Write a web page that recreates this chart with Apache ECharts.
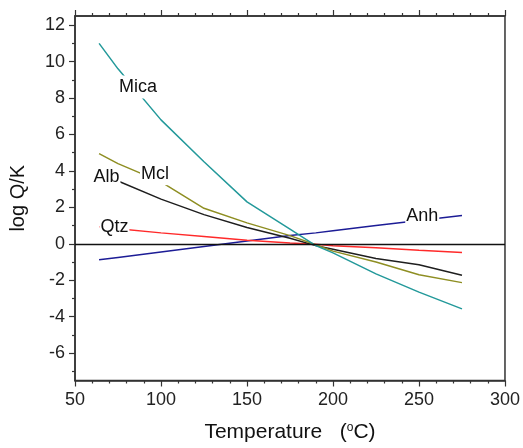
<!DOCTYPE html>
<html>
<head>
<meta charset="utf-8">
<script src="https://cdn.jsdelivr.net/npm/echarts@6/dist/echarts.min.js"></script>
<style>
  html, body { margin: 0; padding: 0; background: #fff; }
  #main { width: 523px; height: 448px; }
</style>
</head>
<body>
<div id="main"></div>
<script>
// temperatures (°C) where values were read
var temps = [64, 75, 100, 125, 150, 175, 190, 200, 225, 250, 275];

// log Q/K for each mineral
var mica = [11.0, 9.6, 6.8, 4.5, 2.3, 0.8, -0.1, -0.5, -1.65, -2.65, -3.57];
var mcl  = [4.95, 4.4, 3.4, 1.95, 1.15, 0.45, -0.05, -0.4, -1.0, -1.7, -2.13];
var alb  = [3.9, 3.45, 2.45, 1.6, 0.9, 0.3, -0.1, -0.3, -0.8, -1.15, -1.72];
var qtz  = [0.93, 0.82, 0.6, 0.4, 0.2, 0.05, -0.03, -0.1, -0.22, -0.35, -0.47];
var anh  = [-0.88, -0.75, -0.45, -0.15, 0.15, 0.45, 0.6, 0.72, 1.0, 1.28, 1.55];

// inline label spots (temperature, log Q/K)
var labelNames = ['Mica', 'Mcl', 'Alb', 'Qtz', 'Anh'];
var labelAt = [[86.7, 8.6], [96.5, 3.85], [68.3, 3.65], [72.9, 0.9], [251.9, 1.55]];

var yLabels = [-6, -4, -2, 0, 2, 4, 6, 8, 10, 12];
var yMinor = [-7, -5, -3, -1, 1, 3, 5, 7, 9, 11];

var font = 'Arial, "Liberation Sans", sans-serif';
var axisColor = '#333';

function pairs(vals) {
    return temps.map(function (t, i) { return [t, vals[i]]; });
}

function makeSeries(name, vals, color, idx, extra) {
    var s = {
        name: name,
        type: 'line',
        data: pairs(vals),
        symbol: 'none',
        lineStyle: {color: color, width: 1.5},
        itemStyle: {color: color},
        markPoint: {
            symbol: 'rect',
            symbolSize: 1,
            itemStyle: {color: 'rgba(0,0,0,0)'},
            label: {
                show: true,
                position: 'inside',
                formatter: labelNames[idx],
                color: '#111',
                fontFamily: font,
                fontSize: 18,
                backgroundColor: '#fff',
                padding: [3, 1, 2, 1]
            },
            data: [{coord: labelAt[idx]}]
        },
        z: 3
    };
    if (extra) Object.assign(s, extra);
    return s;
}

var chart = echarts.init(document.getElementById('main'));
chart.setOption({
    animation: false,
    grid: {
        left: 72, right: 18, top: 16, bottom: 61,
        show: true,
        borderColor: axisColor,
        borderWidth: 1.5
    },
    xAxis: [
        {
            type: 'value',
            min: 50, max: 300, interval: 50,
            position: 'bottom',
            name: 'Temperature   ({sup|o}C)',
            nameLocation: 'middle',
            nameGap: 41,
            nameTextStyle: {
                fontFamily: font, fontSize: 21, color: '#111',
                rich: {sup: {fontFamily: font, fontSize: 12, color: '#111', verticalAlign: 'top', padding: [0, 0, 10, 0]}}
            },
            axisLine: {show: true, onZero: false, lineStyle: {color: axisColor, width: 1.5}},
            axisTick: {show: true, inside: false, length: 6, lineStyle: {color: axisColor, width: 1.2}},
            minorTick: {show: true, splitNumber: 5, length: 3, lineStyle: {color: axisColor, width: 1.2}},
            axisLabel: {fontFamily: font, fontSize: 18, color: '#222', margin: 11},
            splitLine: {show: false}
        },
        {
            type: 'value',
            min: 50, max: 300, interval: 50,
            position: 'top',
            axisLine: {show: true, onZero: false, lineStyle: {color: axisColor, width: 1.5}},
            axisTick: {show: true, inside: false, length: 6, lineStyle: {color: axisColor, width: 1.2}},
            minorTick: {show: true, splitNumber: 5, length: 3, lineStyle: {color: axisColor, width: 1.2}},
            axisLabel: {show: false},
            splitLine: {show: false}
        }
    ],
    yAxis: [
        {
            type: 'value',
            min: -7.5, max: 12.5,
            position: 'left',
            name: 'log Q/K',
            nameLocation: 'middle',
            nameGap: 47,
            nameTextStyle: {fontFamily: font, fontSize: 20, color: '#111'},
            axisLine: {show: true, onZero: false, lineStyle: {color: axisColor, width: 1.5}},
            axisTick: {show: true, inside: false, length: 6, customValues: yLabels, lineStyle: {color: axisColor, width: 1.2}},
            axisLabel: {fontFamily: font, fontSize: 18, color: '#222', margin: 10, customValues: yLabels},
            splitLine: {show: false}
        },
        {
            type: 'value',
            min: -7.5, max: 12.5,
            position: 'left',
            axisLine: {show: false, onZero: false},
            axisTick: {show: true, inside: false, length: 3, customValues: yMinor, lineStyle: {color: axisColor, width: 1.2}},
            axisLabel: {show: false},
            splitLine: {show: false}
        }
    ],
    series: [
        makeSeries('Anh', anh, '#1c1c96', 4, {
            markLine: {
                silent: true,
                symbol: 'none',
                label: {show: false},
                lineStyle: {color: '#111', width: 1.3, type: 'solid'},
                data: [{yAxis: 0}]
            }
        }),
        makeSeries('Qtz', qtz, '#ff2a2a', 3),
        makeSeries('Alb', alb, '#1e1e1e', 2),
        makeSeries('Mcl', mcl, '#8e8e22', 1),
        makeSeries('Mica', mica, '#23999a', 0)
    ]
});
</script>
</body>
</html>
